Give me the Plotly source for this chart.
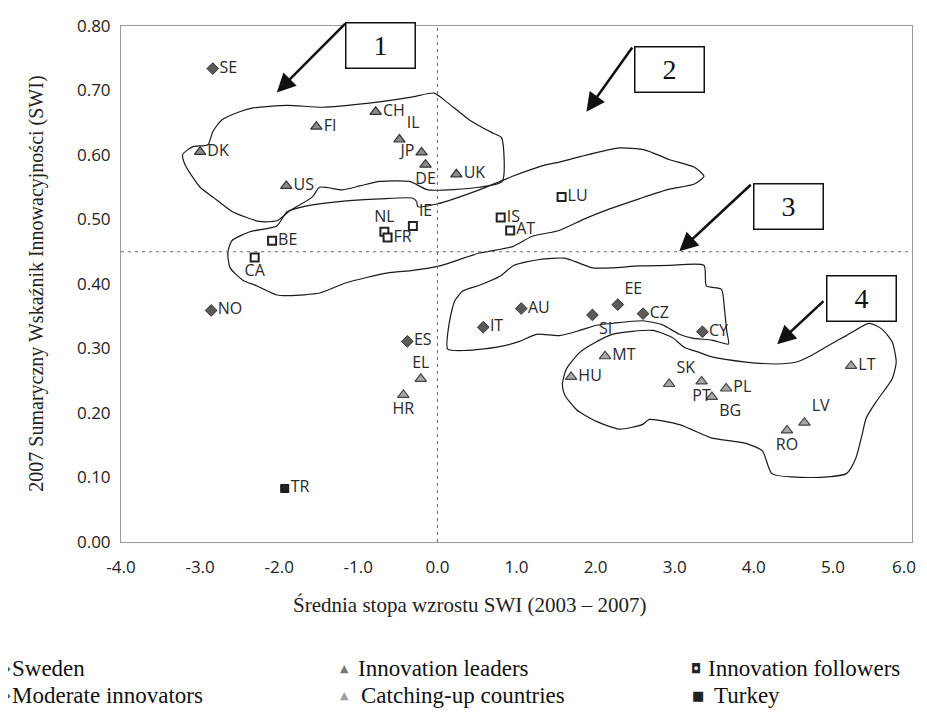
import plotly.graph_objects as go

# ---------------- data ----------------
sweden_codes = ["SE"]
sweden_x = [-2.84]
sweden_y = [0.734]

moderate_codes = ["NO", "ES", "IT", "AU", "SI", "EE", "CZ", "CY"]
moderate_x = [-2.86, -0.38, 0.58, 1.06, 1.96, 2.28, 2.60, 3.35]
moderate_y = [0.359, 0.311, 0.333, 0.362, 0.352, 0.368, 0.354, 0.326]

leaders_codes = ["DK", "FI", "CH", "IL", "JP", "DE", "UK", "US"]
leaders_x = [-3.00, -1.53, -0.78, -0.48, -0.20, -0.15, 0.24, -1.91]
leaders_y = [0.605, 0.644, 0.667, 0.624, 0.604, 0.585, 0.570, 0.552]

followers_codes = ["IE", "NL", "FR", "BE", "CA", "IS", "AT", "LU"]
followers_x = [-0.31, -0.67, -0.63, -2.09, -2.31, 0.80, 0.92, 1.57]
followers_y = [0.490, 0.481, 0.472, 0.467, 0.441, 0.503, 0.483, 0.535]

catching_codes = ["EL", "HR", "MT", "HU", "SK", "PT", "BG", "PL", "LT", "LV", "RO"]
catching_x = [-0.21, -0.43, 2.12, 1.69, 2.93, 3.34, 3.47, 3.65, 5.23, 4.64, 4.42]
catching_y = [0.253, 0.228, 0.288, 0.256, 0.245, 0.249, 0.225, 0.238, 0.273, 0.185, 0.173]

turkey_codes = ["TR"]
turkey_x = [-1.93]
turkey_y = [0.083]

x_ticks = [-4, -3, -2, -1, 0, 1, 2, 3, 4, 5, 6]
y_ticks = [0.0, 0.1, 0.2, 0.3, 0.4, 0.5, 0.6, 0.7, 0.8]

avg_x = 0.0   # vertical dashed reference
avg_y = 0.45  # horizontal dashed reference

# group outlines (data units)
group1_x = [-2.73, -2.50, -2.33, -1.90, -1.45, -0.89, -0.31, -0.04, 0.12, 0.41, 0.70, 0.81, 0.82, 0.53,
            -0.12, -0.35, -0.73, -0.98, -1.20, -1.49, -1.58, -1.87, -2.03, -2.25, -2.59, -2.84, -3.00,
            -3.19, -3.22, -3.09, -2.90, -2.84, -2.73]
group1_y = [0.654, 0.667, 0.673, 0.677, 0.674, 0.680, 0.690, 0.696, 0.682, 0.654, 0.634, 0.627, 0.559,
            0.550, 0.546, 0.559, 0.559, 0.552, 0.546, 0.550, 0.535, 0.513, 0.498, 0.497, 0.512, 0.535,
            0.550, 0.585, 0.601, 0.613, 0.616, 0.636, 0.654]

group2_x = [-2.65, -2.60, -2.37, -2.03, -1.90, -1.65, -1.15, -0.73, -0.31, -0.26, -0.25, -0.01, 0.53,
            0.79, 0.95, 1.38, 1.54, 1.92, 2.30, 2.62, 2.93, 3.25, 3.37, 3.25, 2.93, 2.55, 2.17, 1.86,
            1.54, 1.20, 0.95, 0.53, 0.03, -0.31, -0.64, -1.15, -1.49, -1.87, -2.03, -2.28, -2.46,
            -2.62, -2.65]
group2_y = [0.448, 0.467, 0.481, 0.490, 0.512, 0.521, 0.529, 0.532, 0.533, 0.527, 0.520, 0.524, 0.546,
            0.559, 0.567, 0.585, 0.589, 0.601, 0.611, 0.608, 0.593, 0.581, 0.567, 0.555, 0.547, 0.532,
            0.516, 0.501, 0.483, 0.474, 0.458, 0.448, 0.428, 0.421, 0.417, 0.402, 0.386, 0.382, 0.383,
            0.397, 0.406, 0.425, 0.448]

group3_x = [0.13, 0.15, 0.22, 0.32, 0.53, 0.79, 0.97, 1.29, 1.61, 1.80, 1.96, 2.21, 2.55, 2.93, 3.37,
            3.40, 3.59, 3.63, 3.66, 3.68, 3.47, 3.22, 3.06, 2.84, 2.59, 2.21, 2.01, 1.80, 1.54, 1.25,
            1.04, 0.75, 0.37, 0.13]
group3_y = [0.299, 0.340, 0.374, 0.389, 0.398, 0.412, 0.429, 0.438, 0.440, 0.432, 0.425, 0.425, 0.428,
            0.429, 0.429, 0.397, 0.392, 0.360, 0.325, 0.307, 0.313, 0.316, 0.322, 0.337, 0.343, 0.339,
            0.336, 0.328, 0.320, 0.322, 0.311, 0.302, 0.297, 0.299]

group4_x = [1.58, 1.63, 1.80, 1.96, 2.21, 2.72, 2.97, 3.12, 3.31, 3.47, 3.90, 4.28, 4.54, 4.74, 4.95,
            5.17, 5.46, 5.62, 5.75, 5.80, 5.75, 5.55, 5.42, 5.37, 5.29, 5.17, 4.74, 4.23, 4.11, 3.90,
            3.47, 3.35, 3.06, 2.68, 2.59, 2.30, 2.01, 1.76, 1.61, 1.58]
group4_y = [0.244, 0.268, 0.294, 0.307, 0.322, 0.328, 0.317, 0.302, 0.294, 0.287, 0.279, 0.276, 0.279,
            0.290, 0.305, 0.320, 0.339, 0.330, 0.310, 0.279, 0.253, 0.218, 0.192, 0.167, 0.130, 0.106,
            0.100, 0.106, 0.141, 0.153, 0.161, 0.167, 0.182, 0.190, 0.182, 0.175, 0.187, 0.205, 0.228,
            0.244]

# numbered callout boxes: label, box centre, arrow tail, arrow tip
callout_labels = ["1", "2", "3", "4"]
callout_box_x = [-0.717, 2.938, 4.441, 5.356]
callout_box_y = [0.770, 0.733, 0.5195, 0.377]
callout_tail_x = [-1.146, 2.477, 3.98, 4.90]
callout_tail_y = [0.806, 0.769, 0.556, 0.3755]
callout_tip_x = [-2.03, 1.884, 3.058, 4.295]
callout_tip_y = [0.697, 0.667, 0.4506, 0.3065]

# ---------------- label placement (style) ----------------
textpos = {
    "IL": "top right", "JP": "middle left", "DE": "bottom center", "IE": "top right",
    "NL": "top center", "CA": "bottom center", "EL": "top center", "HR": "bottom center",
    "SI": "bottom right", "EE": "top right", "SK": "top right", "PT": "bottom center",
    "BG": "bottom right", "LV": "top right", "RO": "bottom center",
}

LABEL_FONT = dict(family="Open Sans, sans-serif", size=16, color="#2a2a2a")
TICK_FONT = dict(family="Open Sans, sans-serif", size=17, color="#222")

fig = go.Figure()

outline_style = dict(color="#1a1a1a", width=1.2, shape="spline", smoothing=0.6)
for gx, gy in [(group1_x, group1_y), (group2_x, group2_y), (group3_x, group3_y), (group4_x, group4_y)]:
    fig.add_trace(go.Scatter(x=gx, y=gy, mode="lines", line=outline_style,
                             hoverinfo="skip", showlegend=False))


def add_group(codes, xs, ys, marker):
    fig.add_trace(go.Scatter(
        x=xs, y=ys, mode="markers+text", text=codes,
        textposition=[textpos.get(c, "middle right") for c in codes],
        textfont=LABEL_FONT, marker=marker, showlegend=False, cliponaxis=False))


add_group(sweden_codes, sweden_x, sweden_y,
          dict(symbol="diamond", size=9, color="#5a5a5a", line=dict(color="#333", width=1)))
add_group(moderate_codes, moderate_x, moderate_y,
          dict(symbol="diamond", size=9, color="#5a5a5a", line=dict(color="#333", width=1)))
add_group(leaders_codes, leaders_x, leaders_y,
          dict(symbol="triangle-up", size=10, color="#8a8a8a", line=dict(color="#333", width=1.2)))
add_group(followers_codes, followers_x, followers_y,
          dict(symbol="square", size=8, color="#ffffff", line=dict(color="#222", width=2)))
add_group(catching_codes, catching_x, catching_y,
          dict(symbol="triangle-up", size=10, color="#a8a8a8", line=dict(color="#444", width=1.2)))
add_group(turkey_codes, turkey_x, turkey_y,
          dict(symbol="square", size=8, color="#222222", line=dict(color="#111", width=1)))

shapes = [
    dict(type="line", xref="x", yref="y", x0=-4, x1=6, y0=avg_y, y1=avg_y,
         line=dict(color="#666", width=1, dash="3px,4px")),
    dict(type="line", xref="x", yref="y", x0=avg_x, x1=avg_x, y0=0, y1=0.8,
         line=dict(color="#666", width=1, dash="3px,4px")),
]

annotations = []
for lab, bx, by, tx, ty, px, py in zip(callout_labels, callout_box_x, callout_box_y,
                                        callout_tail_x, callout_tail_y, callout_tip_x, callout_tip_y):
    annotations.append(dict(x=px, y=py, ax=tx, ay=ty, xref="x", yref="y", axref="x", ayref="y",
                            text="", showarrow=True, arrowhead=2, arrowsize=1.5, arrowwidth=2.5,
                            arrowcolor="#111", standoff=0, startstandoff=0))
    annotations.append(dict(x=bx, y=by, xref="x", yref="y", text=lab, showarrow=False,
                            font=dict(family="Liberation Serif, serif", size=28, color="#111"),
                            width=68, height=44, borderpad=0, bordercolor="#111", borderwidth=1.5,
                            bgcolor="white", xanchor="center", yanchor="middle"))

# axis titles
annotations.append(dict(x=-0.125, y=0.5, xref="paper", yref="paper", textangle=-90,
                        text="2007 Sumaryczny Wskaźnik Innowacyjności (SWI)", showarrow=False,
                        font=dict(family="Liberation Serif, serif", size=20, color="#222")))
annotations.append(dict(x=0.441, y=-0.149, xref="paper", yref="paper",
                        text="Średnia stopa wzrostu SWI (2003 – 2007)", showarrow=False,
                        font=dict(family="Liberation Serif, serif", size=21, color="#222")))

# geometry of the plot area on the page (page has an 8px body margin)
W_PLOT, H_PLOT, L, T = 792, 522, 121, 20

# last x tick label sits at the page edge: drawn right-aligned so it is not clipped
x_ticktext = [f"{v:.1f}" for v in x_ticks]
last_label = x_ticktext[-1]
x_ticktext[-1] = ""
annotations.append(dict(x=(919 - L) / W_PLOT, y=(T + H_PLOT - 567) / H_PLOT, xref="paper",
                        yref="paper", text=last_label, showarrow=False, xanchor="right",
                        yanchor="middle", font=TICK_FONT))

# legend (custom, three columns x two rows); positions in page pixels
legend_items = [
    ("◆", "#5a5a5a", 11, "Sweden", 6, 10, 670),
    ("◆", "#5a5a5a", 11, "Moderate innovators", 6, 10, 697),
    ("▲", "#777777", 11, "Innovation leaders", 345, 356, 670),
    ("▲", "#a0a0a0", 11, "Catching-up countries", 345, 359, 697),
    ("◘", "#222222", 13, "Innovation followers", 697, 707, 670),
    ("■", "#222222", 13, "Turkey", 699, 713, 697),
]
for sym, col, ssz, txt, mx, tx, ty in legend_items:
    yp = (T + H_PLOT - ty) / H_PLOT
    annotations.append(dict(x=(mx - L) / W_PLOT, y=yp, xref="paper", yref="paper", text=sym,
                            showarrow=False, xanchor="center", yanchor="middle",
                            font=dict(family="DejaVu Sans", size=ssz, color=col)))
    annotations.append(dict(x=(tx - L) / W_PLOT, y=yp, xref="paper", yref="paper", text=txt,
                            showarrow=False, xanchor="left", yanchor="middle",
                            font=dict(family="Liberation Serif, serif", size=23, color="#111")))

axis_common = dict(showgrid=False, zeroline=False, showline=True, linecolor="#9a9a9a", linewidth=1,
                   mirror=True, ticks="", ticklabeloverflow="allow", tickfont=TICK_FONT)
# figure is 911x701 so that, with the page's 8px body margin, the page is 927x717
fig.update_layout(
    width=911, height=701,
    margin=dict(l=113, r=6, t=12, b=167),
    paper_bgcolor="white", plot_bgcolor="white",
    xaxis=dict(range=[-4, 6], tickvals=x_ticks, ticktext=x_ticktext,
               ticklabelstandoff=10, **axis_common),
    yaxis=dict(range=[0, 0.8], tickvals=y_ticks, ticktext=[f"{v:.2f}" for v in y_ticks],
               ticklabelstandoff=6, **axis_common),
    shapes=shapes, annotations=annotations, showlegend=False,
)

fig.write_html("out.html", config={"displayModeBar": False})
